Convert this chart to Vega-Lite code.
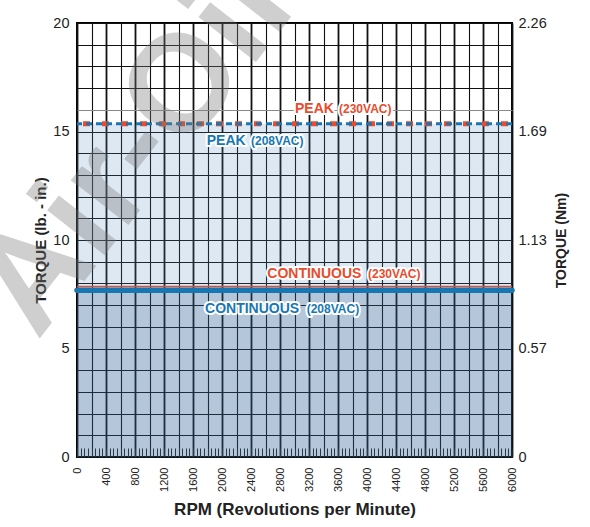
{
  "$schema": "https://vega.github.io/schema/vega-lite/v6.json",
  "width": 435,
  "height": 434,
  "autosize": {"type": "none"},
  "padding": {"left": 77, "top": 23, "right": 78, "bottom": 70},
  "background": "white",
  "config": {
    "view": {"stroke": "#000", "strokeWidth": 2},
    "font": "Liberation Sans",
    "axis": {"domain": false, "labelColor": "#222", "titleColor": "#222"}
  },
  "datasets": {
    "levels": [
      {"rating": "Peak", "voltage": "230VAC", "torque": 15.36},
      {"rating": "Peak", "voltage": "208VAC", "torque": 15.36},
      {"rating": "Continuous", "voltage": "230VAC", "torque": 7.86},
      {"rating": "Continuous", "voltage": "208VAC", "torque": 7.68}
    ],
    "labels": [
      {"text": "PEAK", "voltage": "230VAC", "part": "main", "rpm": 3007, "torque": 15.85},
      {"text": "(230VAC)", "voltage": "230VAC", "part": "sub", "rpm": 3614, "torque": 15.85},
      {"text": "PEAK", "voltage": "208VAC", "part": "main", "rpm": 1789, "torque": 14.38},
      {"text": "(208VAC)", "voltage": "208VAC", "part": "sub", "rpm": 2400, "torque": 14.38},
      {"text": "CONTINUOUS", "voltage": "230VAC", "part": "main", "rpm": 2625, "torque": 8.24},
      {"text": "(230VAC)", "voltage": "230VAC", "part": "sub", "rpm": 4014, "torque": 8.24},
      {"text": "CONTINUOUS", "voltage": "208VAC", "part": "main", "rpm": 1766, "torque": 6.62},
      {"text": "(208VAC)", "voltage": "208VAC", "part": "sub", "rpm": 3168, "torque": 6.62}
    ]
  },
  "resolve": {"axis": {"x": "independent", "y": "independent"}, "scale": {"color": "independent"}},
  "layer": [
    {
      "data": {"name": "levels"},
      "transform": [{"filter": "datum.voltage === '208VAC'"}],
      "mark": {"type": "rect", "opacity": 0.2},
      "encoding": {
        "x": {
          "datum": 0,
          "type": "quantitative",
          "scale": {"domain": [0, 6000], "nice": false},
          "axis": {
            "values": [0,50,100,150,200,250,300,350,400,450,500,550,600,650,700,750,800,850,900,950,1000,1050,1100,1150,1200,1250,1300,1350,1400,1450,1500,1550,1600,1650,1700,1750,1800,1850,1900,1950,2000,2050,2100,2150,2200,2250,2300,2350,2400,2450,2500,2550,2600,2650,2700,2750,2800,2850,2900,2950,3000,3050,3100,3150,3200,3250,3300,3350,3400,3450,3500,3550,3600,3650,3700,3750,3800,3850,3900,3950,4000,4050,4100,4150,4200,4250,4300,4350,4400,4450,4500,4550,4600,4650,4700,4750,4800,4850,4900,4950,5000,5050,5100,5150,5200,5250,5300,5350,5400,5450,5500,5550,5600,5650,5700,5750,5800,5850,5900,5950,6000],
            "format": "d",
            "labelExpr": "datum.value % 400 === 0 ? datum.label : ''",
            "labelAngle": 270,
            "labelAlign": "right",
            "labelBaseline": "middle",
            "labelFontSize": 11,
            "labelPadding": 19,
            "labelOverlap": false,
            "labelFlush": false,
            "labelBound": false,
            "ticks": true,
            "tickSize": -9,
            "tickWidth": 1,
            "tickColor": "#222",
            "grid": true,
            "gridColor": "#111",
            "gridOpacity": {"condition": {"test": "datum.value % 200 === 0", "value": 1}, "value": 0},
            "gridWidth": {"condition": {"test": "datum.value % 400 === 0", "value": 1.8}, "value": 1.1},
            "title": "RPM (Revolutions per Minute)",
            "titleFontWeight": "bold",
            "titleFontSize": 17,
            "titlePadding": 10
          }
        },
        "x2": {"datum": 6000},
        "y": {
          "field": "torque",
          "type": "quantitative",
          "scale": {"domain": [0, 20], "nice": false},
          "axis": {
            "orient": "left",
            "values": [0,1,2,3,4,5,6,7,8,9,10,11,12,13,14,15,16,17,18,19,20],
            "labelExpr": "datum.value % 5 === 0 ? datum.label : ''",
            "labelFontSize": 14.5,
            "labelPadding": 8,
            "ticks": false,
            "grid": true,
            "gridColor": {"condition": {"test": "datum.value === 16", "value": "#8a8a8a"}, "value": "#111"},
            "gridWidth": 1.1,
            "title": "TORQUE (lb. - in.)",
            "titleFontWeight": "bold",
            "titleFontSize": 15,
            "titlePadding": 4
          }
        },
        "y2": {"datum": 0},
        "color": {
          "field": "rating",
          "type": "nominal",
          "scale": {"domain": ["Peak", "Continuous"], "range": ["#558cc3", "#154371"]},
          "legend": null
        }
      }
    },
    {
      "data": {"name": "levels"},
      "transform": [{"filter": "datum.rating === 'Peak' && datum.voltage === '230VAC'"}],
      "mark": {"type": "rule", "color": "#ea4b2d", "strokeWidth": 5, "strokeDash": [7, 12], "strokeDashOffset": -4},
      "encoding": {"y": {"field": "torque", "type": "quantitative", "axis": null}}
    },
    {
      "data": {"name": "levels"},
      "transform": [{"filter": "datum.rating === 'Peak' && datum.voltage === '208VAC'"}],
      "mark": {"type": "rule", "color": "#1877b2", "strokeWidth": 3, "strokeDash": [6, 4]},
      "encoding": {"y": {"field": "torque", "type": "quantitative", "axis": null}}
    },
    {
      "data": {"name": "levels"},
      "transform": [{"filter": "datum.rating === 'Continuous' && datum.voltage === '230VAC'"}],
      "mark": {"type": "rule", "color": "#ea4b2d", "strokeWidth": 1.5},
      "encoding": {"y": {"field": "torque", "type": "quantitative", "axis": null}}
    },
    {
      "data": {"name": "levels"},
      "transform": [{"filter": "datum.rating === 'Continuous' && datum.voltage === '208VAC'"}],
      "mark": {"type": "rule", "color": "#1877b2", "strokeWidth": 5.5, "strokeCap": "round"},
      "encoding": {
        "y": {
          "field": "torque",
          "type": "quantitative",
          "axis": {
            "orient": "right",
            "values": [0, 5, 10, 15, 20],
            "labelExpr": "['0','0.57','1.13','1.69','2.26'][datum.value / 5]",
            "labelFontSize": 14.5,
            "labelPadding": 6,
            "ticks": false,
            "grid": false,
            "title": "TORQUE (Nm)",
            "titleAngle": 270,
            "titleBaseline": "top",
            "titleFontWeight": "bold",
            "titleFontSize": 14,
            "titlePadding": 8
          }
        }
      }
    },
    {
      "data": {"name": "labels"},
      "mark": {"type": "text", "align": "left", "baseline": "alphabetic", "fontWeight": "bold", "stroke": "white", "strokeWidth": 4, "strokeJoin": "round", "fill": "white"},
      "encoding": {
        "x": {"field": "rpm", "type": "quantitative", "axis": null},
        "y": {"field": "torque", "type": "quantitative", "axis": null},
        "text": {"field": "text"},
        "size": {"field": "part", "type": "nominal", "scale": {"domain": ["main", "sub"], "range": [14, 12]}, "legend": null}
      }
    },
    {
      "data": {"name": "labels"},
      "mark": {"type": "text", "align": "left", "baseline": "alphabetic", "fontWeight": "bold"},
      "encoding": {
        "x": {"field": "rpm", "type": "quantitative", "axis": null},
        "y": {"field": "torque", "type": "quantitative", "axis": null},
        "text": {"field": "text"},
        "size": {"field": "part", "type": "nominal", "scale": {"domain": ["main", "sub"], "range": [14, 12]}, "legend": null},
        "color": {"field": "voltage", "type": "nominal", "scale": {"domain": ["230VAC", "208VAC"], "range": ["#ea4b2d", "#1877b2"]}, "legend": null}
      }
    },
    {
      "data": {"values": [{}]},
      "mark": {"type": "text", "text": "Air-Oil", "angle": 308, "align": "center", "baseline": "middle", "fontWeight": "bold", "fontSize": 138, "fill": "#777", "opacity": 0.35, "clip": false},
      "encoding": {
        "x": {"datum": 800, "type": "quantitative", "axis": null},
        "y": {"datum": 14.15, "type": "quantitative", "axis": null}
      }
    }
  ]
}
